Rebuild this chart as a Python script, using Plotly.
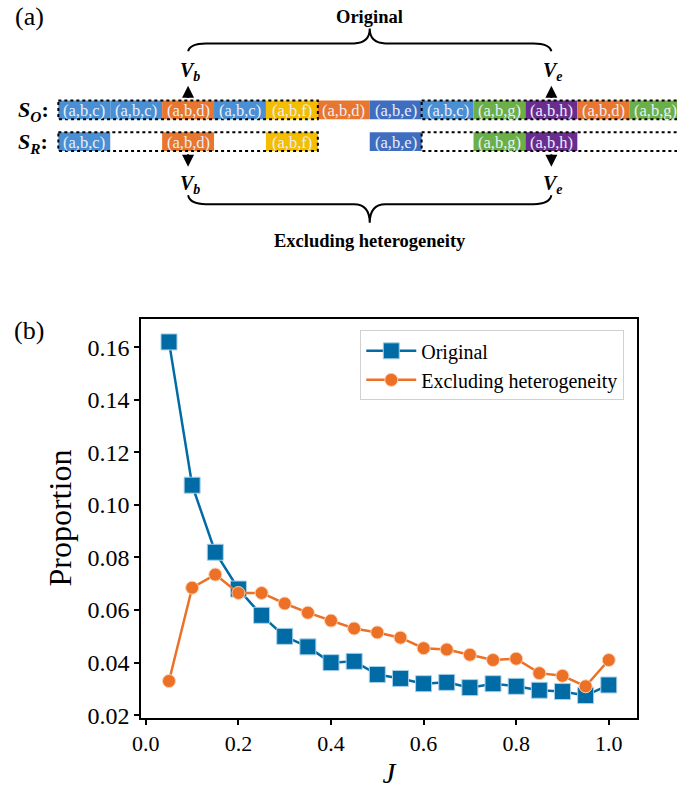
import plotly.graph_objects as go

# ---------------- data ----------------
J = [0.05, 0.10, 0.15, 0.20, 0.25, 0.30, 0.35, 0.40, 0.45, 0.50,
     0.55, 0.60, 0.65, 0.70, 0.75, 0.80, 0.85, 0.90, 0.95, 1.00]
original = [0.162, 0.1075, 0.082, 0.068, 0.058, 0.050, 0.046, 0.040, 0.0405, 0.0355,
            0.034, 0.032, 0.0325, 0.0305, 0.032, 0.031, 0.0295, 0.029, 0.0275, 0.0315]
excluding = [0.033, 0.0685, 0.0735, 0.0665, 0.0665, 0.0625, 0.059, 0.056, 0.053, 0.0515,
             0.0495, 0.0455, 0.045, 0.043, 0.041, 0.0415, 0.036, 0.035, 0.031, 0.041]
x_ticks = [0.0, 0.2, 0.4, 0.6, 0.8, 1.0]
y_ticks = [0.02, 0.04, 0.06, 0.08, 0.10, 0.12, 0.14, 0.16]

# diagram (panel a) content
seq_O = ["(a,b,c)", "(a,b,c)", "(a,b,d)", "(a,b,c)", "(a,b,f)", "(a,b,d)",
         "(a,b,e)", "(a,b,c)", "(a,b,g)", "(a,b,h)", "(a,b,d)", "(a,b,g)"]
kept_R = [True, False, True, False, True, False, True, False, True, True, False, False]
groups = [(0, 4), (7, 11)]
label_colors = {"(a,b,c)": "#4a8fd3", "(a,b,d)": "#e8762e", "(a,b,e)": "#3f6dc0",
                "(a,b,f)": "#f4bd00", "(a,b,g)": "#6aaf47", "(a,b,h)": "#6a2c8f"}
vb_index, ve_index = 2, 9

SERIF = "Liberation Serif, serif"
BLUE = "#006ba4"
ORANGE = "#ec7026"

W, H = 677, 792
fig = go.Figure()

fig.add_trace(go.Scatter(x=J, y=original, mode="lines+markers", name="Original",
                         line=dict(color=BLUE, width=2.5),
                         marker=dict(symbol="square", size=16, color=BLUE,
                                     line=dict(color="#a9d0ea", width=1))))
fig.add_trace(go.Scatter(x=J, y=excluding, mode="lines+markers", name="Excluding heterogeneity",
                         line=dict(color=ORANGE, width=2.5),
                         marker=dict(symbol="circle", size=13, color=ORANGE,
                                     line=dict(color="#fbd0b0", width=1))))
# invisible helper trace for the overlay pixel axes used by panel (a)
fig.add_trace(go.Scatter(x=[0], y=[0], xaxis="x2", yaxis="y2", mode="markers",
                         marker=dict(opacity=0), showlegend=False, hoverinfo="skip"))

# ---------------- diagram geometry ----------------
bx0, bw = 50.0, 52.6
rowO = (102, 121)
rowR = (134, 153)
shapes = []
annots = []
for i, lab in enumerate(seq_O):
    xa, xb = bx0 + i * bw, bx0 + (i + 1) * bw
    for (ya, yb), show in ((rowO, True), (rowR, kept_R[i])):
        if not show:
            continue
        shapes.append(dict(type="rect", xref="x2", yref="y2", x0=xa, x1=xb, y0=ya, y1=yb,
                           fillcolor=label_colors[lab], line=dict(width=0), layer="above"))
        annots.append(dict(xref="x2", yref="y2", x=(xa + xb) / 2, y=(ya + yb) / 2 + 0.5, text=lab,
                           showarrow=False, font=dict(family=SERIF, size=16.5, color="#e9eef7")))
for g0, g1 in groups:
    xa, xb = bx0 + g0 * bw, bx0 + (g1 + 1) * bw
    for ya, yb in (rowO, rowR):
        shapes.append(dict(type="rect", xref="x2", yref="y2", x0=xa, x1=xb, y0=ya, y1=yb,
                           line=dict(color="black", width=2, dash="dot"), layer="above"))

xb_ = bx0 + (vb_index + 0.5) * bw
xe_ = bx0 + (ve_index + 0.5) * bw
xm = (xb_ + xe_) / 2

# curly braces
top = (f"M {xb_},52 Q {xb_+2},44 {xb_+18},44 L {xm-16},44 Q {xm},44 {xm},29 "
       f"Q {xm},44 {xm+16},44 L {xe_-18},44 Q {xe_-2},44 {xe_},52")
bot = (f"M {xb_},198 Q {xb_+2},207 {xb_+18},207 L {xm-16},207 Q {xm},207 {xm},226 "
       f"Q {xm},207 {xm+16},207 L {xe_-18},207 Q {xe_-2},207 {xe_},198")
for p in (top, bot):
    shapes.append(dict(type="path", xref="x2", yref="y2", path=p,
                       line=dict(color="black", width=2), layer="above"))

# arrows
for xx in (xb_, xe_):
    annots.append(dict(xref="x2", yref="y2", axref="x2", ayref="y2", x=xx, y=87, ax=xx, ay=101,
                       text="", showarrow=True, arrowhead=2, arrowsize=1.2, arrowwidth=2,
                       arrowcolor="black"))
    annots.append(dict(xref="x2", yref="y2", axref="x2", ayref="y2", x=xx, y=169, ax=xx, ay=155,
                       text="", showarrow=True, arrowhead=2, arrowsize=1.2, arrowwidth=2,
                       arrowcolor="black"))

def vlab(sub):
    return f"<b><i>V</i></b><sub><b><i>{sub}</i></b></sub>"

for xx, sub in ((xb_, "b"), (xe_, "e")):
    annots.append(dict(xref="x2", yref="y2", x=xx + 2, y=73, text=vlab(sub), showarrow=False,
                       font=dict(family=SERIF, size=20, color="black")))
    annots.append(dict(xref="x2", yref="y2", x=xx + 2, y=187, text=vlab(sub), showarrow=False,
                       font=dict(family=SERIF, size=20, color="black")))

annots.append(dict(xref="x2", yref="y2", x=xm, y=17, text="<b>Original</b>", showarrow=False,
                   font=dict(family=SERIF, size=18.5, color="black")))
annots.append(dict(xref="x2", yref="y2", x=xm, y=244, text="<b>Excluding heterogeneity</b>",
                   showarrow=False, font=dict(family=SERIF, size=18.5, color="black")))
annots.append(dict(xref="x2", yref="y2", x=7, y=113, xanchor="left",
                   text="<b><i>S</i></b><sub><b><i>O</i></b></sub><b>:</b>", showarrow=False,
                   font=dict(family=SERIF, size=22, color="black")))
annots.append(dict(xref="x2", yref="y2", x=7, y=145, xanchor="left",
                   text="<b><i>S</i></b><sub><b><i>R</i></b></sub><b>:</b>", showarrow=False,
                   font=dict(family=SERIF, size=22, color="black")))
annots.append(dict(xref="x2", yref="y2", x=4, y=17, xanchor="left", text="(a)", showarrow=False,
                   font=dict(family=SERIF, size=26, color="black")))
annots.append(dict(xref="x2", yref="y2", x=3, y=335, xanchor="left", text="(b)", showarrow=False,
                   font=dict(family=SERIF, size=26, color="black")))

axis_common = dict(showline=True, mirror=True, linecolor="black", linewidth=2,
                   ticks="outside", ticklen=5, tickwidth=1.5, tickcolor="black",
                   showgrid=False, zeroline=False)

fig.update_layout(
    width=W, height=H, margin=dict(l=0, r=0, t=0, b=0),
    paper_bgcolor="white", plot_bgcolor="rgba(0,0,0,0)",
    font=dict(family=SERIF, color="black"),
    shapes=shapes, annotations=annots,
    xaxis=dict(domain=[134 / W, 636 / W], range=[-0.01, 1.06], tickvals=x_ticks,
               ticktext=[f"{v:.1f}" for v in x_ticks], anchor="y",
               tickfont=dict(family=SERIF, size=22, color="black"),
               title=dict(text="<i>J</i>", font=dict(family=SERIF, size=29, color="black"),
                          standoff=8),
               **axis_common),
    yaxis=dict(domain=[1 - 727.7 / H, 1 - 323 / H], range=[0.0191, 0.1709], tickvals=y_ticks,
               ticktext=[f"{v:.2f}" for v in y_ticks], anchor="x",
               tickfont=dict(family=SERIF, size=24, color="black"),
               title=dict(text="Proportion", font=dict(family=SERIF, size=32, color="black"),
                          standoff=6),
               **axis_common),
    xaxis2=dict(domain=[0, 1], range=[0, W], visible=False, anchor="y2", fixedrange=True),
    yaxis2=dict(domain=[0, 1], range=[H, 0], visible=False, anchor="x2", fixedrange=True),
    legend=dict(x=356 / W, y=1 - 335 / H, xanchor="left", yanchor="top",
                bgcolor="white", bordercolor="#d0d0d0", borderwidth=1, itemwidth=50,
                tracegroupgap=0,
                font=dict(family=SERIF, size=20, color="black")),
    showlegend=True,
)

fig.write_html("out.html")
